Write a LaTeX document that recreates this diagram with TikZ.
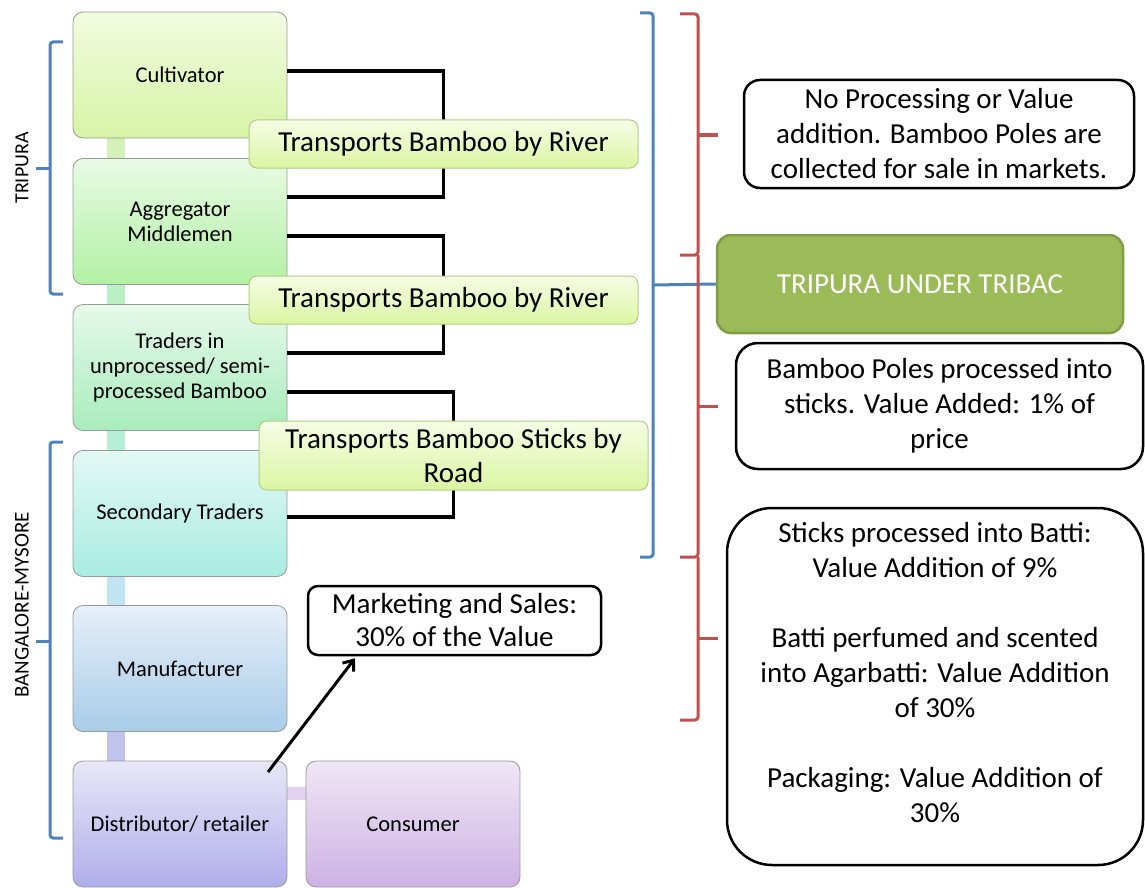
\documentclass[tikz,border=0pt]{standalone}
\usepackage{fontspec}
\setmainfont{Carlito}
\usetikzlibrary{arrows.meta}
\definecolor{bordergrey}{HTML}{9A9A9A}
\definecolor{bblue}{HTML}{4F81BD}
\definecolor{bred}{HTML}{C0504D}
\definecolor{tribacgreen}{HTML}{9BBB59}
\definecolor{tribacedge}{HTML}{7E9D45}
\definecolor{labedge}{HTML}{B2CC82}
\definecolor{lbtop}{HTML}{F6FDE6}
\definecolor{lbbot}{HTML}{DBF5A2}
\tikzset{
  stagebox/.style={draw=bordergrey, line width=0.8pt, rounded corners=10pt,
    minimum width=214pt, minimum height=126pt, align=center,
    font=\fontsize{22.5}{25}\selectfont},
  transbox/.style={draw=labedge, line width=1pt, rounded corners=8pt,
    top color=lbtop, bottom color=lbbot, minimum width=389pt, align=center,
    font=\fontsize{29}{34}\selectfont},
  notebox/.style={draw=black, line width=2.5pt, align=center, fill=white,
    font=\fontsize{29}{35}\selectfont},
  link/.style={draw=black, line width=3.5pt},
  bbrace/.style={draw=bblue, line width=3pt, rounded corners=3pt},
  rbrace/.style={draw=bred, line width=3pt, rounded corners=3pt},
  sidelabel/.style={rotate=90},
}
\begin{document}
\begin{tikzpicture}[x=1pt,y=-1pt]
\useasboundingbox (0,0) rectangle (1145,888);
% connector bars
\fill[color={rgb,255:red,212;green,242;blue,184}] (107,138) rectangle (125,158);
\fill[color={rgb,255:red,184;green,240;blue,196}] (107,285) rectangle (125,304);
\fill[color={rgb,255:red,180;green,238;blue,214}] (107,431) rectangle (125,450);
\fill[color={rgb,255:red,192;green,228;blue,240}] (107,577) rectangle (125,605);
\fill[color={rgb,255:red,192;green,196;blue,236}] (107,732) rectangle (125,761);
\fill[color={rgb,255:red,226;green,210;blue,240}] (287,787) rectangle (306,800);
% stage boxes
\node[stagebox, top color={rgb,255:red,242;green,251;blue,224}, bottom color={rgb,255:red,214;green,244;blue,166}] (cult) at (180,75) {Cultivator};
\node[stagebox, top color={rgb,255:red,232;green,251;blue,228}, bottom color={rgb,255:red,178;green,240;blue,164}] (agg) at (180,221.5) {Aggregator\\Middlemen};
\node[stagebox, top color={rgb,255:red,230;green,249;blue,234}, bottom color={rgb,255:red,168;green,236;blue,188}] (trad) at (180,367.5) {Traders in\\unprocessed/ semi-\\processed Bamboo};
\node[stagebox, top color={rgb,255:red,226;green,248;blue,244}, bottom color={rgb,255:red,168;green,236;blue,224}] (sec) at (180,513.5) {Secondary Traders};
\node[stagebox, top color={rgb,255:red,230;green,239;blue,249}, bottom color={rgb,255:red,168;green,204;blue,232}] (man) at (180,668.5) {Manufacturer};
\node[stagebox, top color={rgb,255:red,232;green,230;blue,247}, bottom color={rgb,255:red,176;green,174;blue,234}] (dist) at (180,824) {Distributor/ retailer};
\node[stagebox, top color={rgb,255:red,239;green,230;blue,245}, bottom color={rgb,255:red,205;green,178;blue,228}] (cons) at (413,824) {Consumer};
% black transport brackets
\draw[link] ([yshift=4pt]cult.east) -- ++(156,0) |- ([yshift=24.5pt]agg.east);
\draw[link] ([yshift=-14.5pt]agg.east) -- ++(156,0) |- ([yshift=14.5pt]trad.east);
\draw[link] ([yshift=-24.5pt]trad.east) -- ++(166,0) |- ([yshift=-3.5pt]sec.east);
% transport labels
\node[transbox, minimum height=48pt] (t1) at (443.5,144) {Transports Bamboo by River};
\node[transbox, minimum height=48pt] (t2) at (443.5,300) {Transports Bamboo by River};
\node[transbox, minimum height=69pt] (t3) at (453.5,455.5) {Transports Bamboo Sticks by\\Road};
% left brackets
\draw[bbrace] (63,42) -- (50,42) -- (50,294) -- (63,294);
\draw[bbrace] (50,168) -- (36,168);
\node[sidelabel, font=\fontsize{20}{24}\selectfont] (trip) at (22,168) {TRIPURA};
\draw[bbrace] (63,442) -- (50,442) -- (50,838) -- (63,838);
\draw[bbrace] (50,641) -- (36,641);
\node[sidelabel, font=\fontsize{21}{24}\selectfont] (bang) at (22,605) {BANGALORE-MYSORE};
% marketing
\node[notebox, rounded corners=10pt, minimum width=293pt, minimum height=69pt, font=\fontsize{29}{33}\selectfont] (mkt) at (454.5,620.5) {Marketing and Sales:\\30\% of the Value};
\draw[line width=3pt, -{Straight Barb[length=9pt,width=14pt]}] ([shift={(88,-52)}]dist.center) -- ([xshift=-99.5pt,yshift=-2pt]mkt.south);
% right notes
\node[draw=tribacedge, line width=2.5pt, fill=tribacgreen, rounded corners=14pt, minimum width=406pt, minimum height=98pt, text=white, font=\fontsize{29}{34}\selectfont] (tribac) at (920,284) {TRIPURA UNDER TRIBAC};
\node[notebox, rounded corners=16pt, minimum width=390pt, minimum height=108pt] (n1) at (939,134) {No Processing or Value\\addition. Bamboo Poles are\\collected for sale in markets.};
\node[notebox, rounded corners=22pt, minimum width=407pt, minimum height=126pt] (n2) at (939.5,406) {Bamboo Poles processed into\\sticks. Value Added: 1\% of\\price};
\node[notebox, rounded corners=45pt, minimum width=416pt, minimum height=357pt] (n3) at (935,686.5) {Sticks processed into Batti:\\Value Addition of 9\%\\[35pt]Batti perfumed and scented\\into Agarbatti: Value Addition\\of 30\%\\[35pt]Packaging: Value Addition of\\30\%\\[-7pt]\mbox{}};
% right blue brace
\draw[bbrace] (640,13) -- (653,13) -- (653,557) -- (640,557);
\draw[bbrace] (653,285) -- (tribac.west);
% red braces
\draw[rbrace] (680,14) -- (698,14) -- (698,255) -- (680,255);
\draw[rbrace] (698,135) -- (718,135);
\draw[rbrace] (698,255) -- (698,557) -- (680,557);
\draw[rbrace] (698,406) -- (718,406);
\draw[rbrace] (698,557) -- (698,720) -- (680,720);
\draw[rbrace] (698,638) -- (718,638);
\end{tikzpicture}
\end{document}
